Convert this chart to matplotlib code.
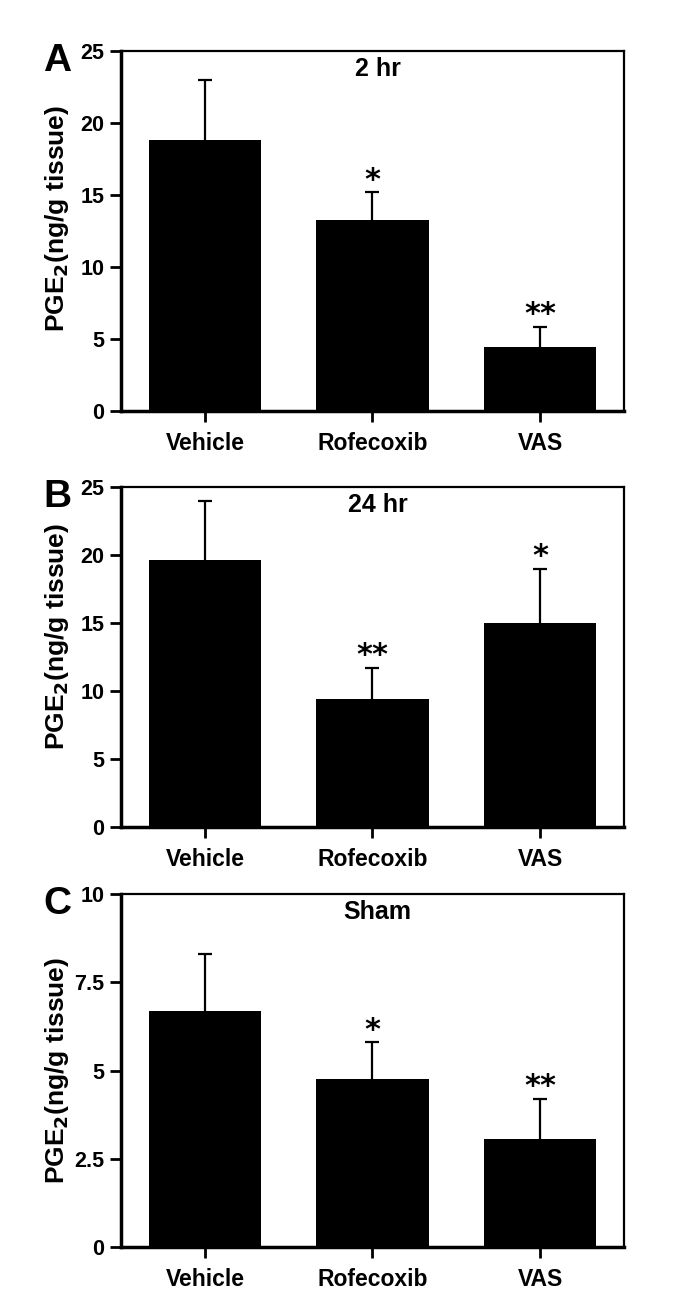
import matplotlib.pyplot as plt
import numpy as np

plt.rcParams['font.family'] = ['Liberation Sans', 'DejaVu Sans']
plt.rcParams['font.weight'] = 'bold'

groups = ['Vehicle', 'Rofecoxib', 'VAS']

# panel A, 2 hr
a_mean = [18.8, 13.3, 4.45]
a_err = [4.2, 1.9, 1.4]
a_star = ['', '*', '**']

# panel B, 24 hr
b_mean = [19.6, 9.4, 15.0]
b_err = [4.4, 2.3, 4.0]
b_star = ['', '**', '*']

# panel C, sham
c_mean = [6.7, 4.75, 3.05]
c_err = [1.6, 1.05, 1.15]
c_star = ['', '*', '**']

panels = [
    ('A', '2 hr', a_mean, a_err, a_star, 25, [0, 5, 10, 15, 20, 25], [0.177, 0.6867, 0.735, 0.2744], 0.535),
    ('B', '24 hr', b_mean, b_err, b_star, 25, [0, 5, 10, 15, 20, 25], [0.177, 0.3697, 0.735, 0.2591], 0.56),
    ('C', 'Sham', c_mean, c_err, c_star, 10, [0, 2.5, 5, 7.5, 10], [0.177, 0.0495, 0.735, 0.2690], 0.5),
]

fig = plt.figure(figsize=(6.84, 13.12), dpi=100)

for letter, title, mean, err, star, ymax, ticks, pos, label_y in panels:
    ax = fig.add_axes(pos)
    x = np.arange(len(groups))
    # bars sit on top of the error bars so only the upper half shows
    ax.bar(x, mean, width=0.67, color='black', zorder=3)
    ax.errorbar(x, mean, yerr=err, fmt='none', ecolor='black',
                elinewidth=1.6, capsize=5, capthick=1.6, zorder=2)
    for xi, m, e, s in zip(x, mean, err, star):
        if s:
            ax.annotate(s, (xi, m + e), xytext=(0, 2.5), textcoords='offset points',
                        ha='center', va='baseline', fontsize=22,
                        family='DejaVu Sans', fontweight='bold')
    ax.set_xlim(-0.5, 2.5)
    ax.set_ylim(0, ymax)
    ax.set_yticks(ticks)
    ax.set_yticklabels(['%g' % t for t in ticks])
    ax.set_xticks(x)
    ax.set_xticklabels(groups)
    ax.tick_params(axis='both', direction='out', length=8, width=2, pad=4)
    ax.tick_params(axis='y', labelsize=15.5)
    ax.tick_params(axis='x', labelsize=16.5, pad=7)
    ax.spines['left'].set_linewidth(2.5)
    ax.spines['bottom'].set_linewidth(2.5)
    ax.spines['top'].set_linewidth(1.6)
    ax.spines['right'].set_linewidth(1.6)
    ax.set_ylabel('PGE$_\\mathbf{2}$(ng/g tissue)', fontsize=19, fontweight='bold')
    ax.yaxis.set_label_coords(-0.099, label_y)
    ax.annotate(title, (0.51, 1.0), xycoords='axes fraction', xytext=(0, -4.5),
                textcoords='offset points', ha='center', va='top',
                fontsize=18, fontweight='bold')
    ax.annotate(letter, (0.0, 1.0), xycoords='axes fraction', xytext=(-46, -7),
                textcoords='offset points', ha='center', va='center',
                fontsize=28, fontweight='bold')

fig.savefig('out.png', dpi=100)
